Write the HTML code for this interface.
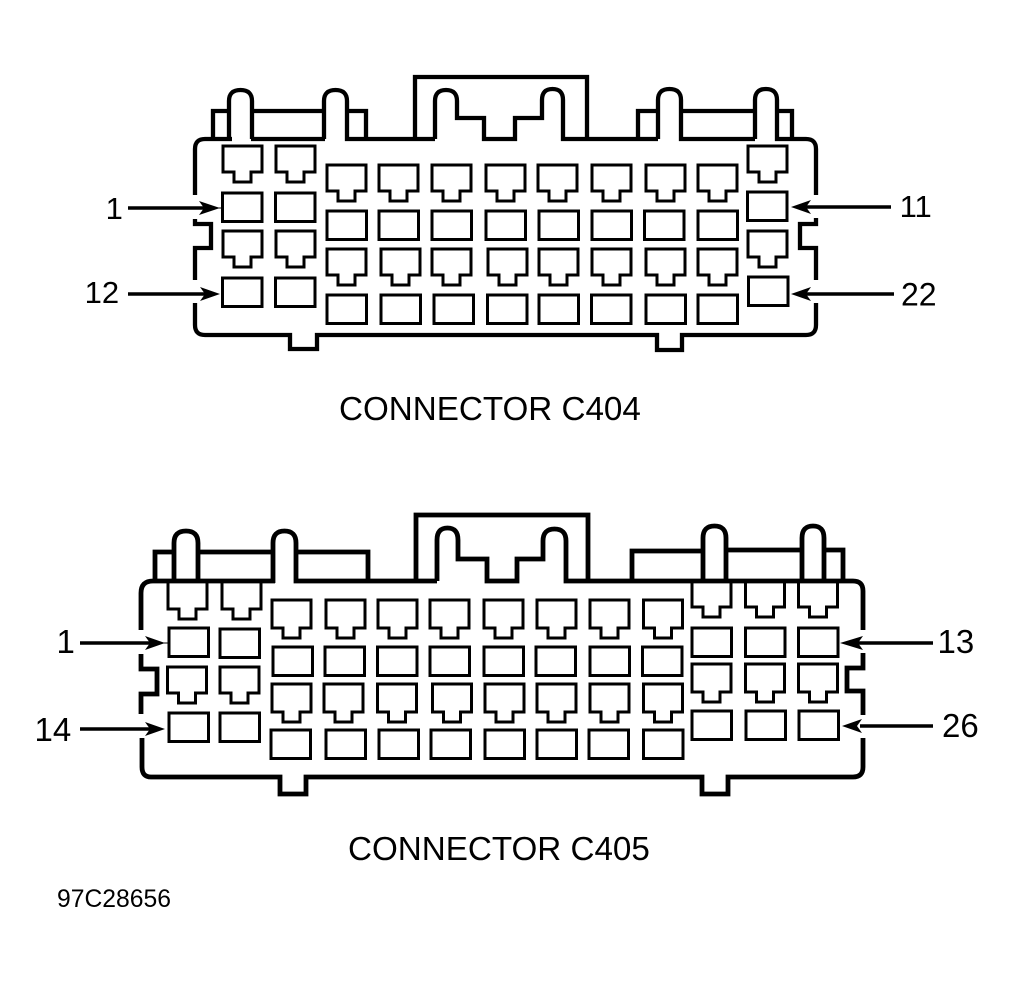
<!DOCTYPE html>
<html>
<head>
<meta charset="utf-8">
<style>
html,body{margin:0;padding:0;background:#fff;width:1014px;height:983px;overflow:hidden}
svg{display:block}
text{font-family:"Liberation Sans",sans-serif;fill:#000}
.o{fill:none;stroke:#000;stroke-width:4.300;stroke-linejoin:miter}
.o2{fill:none;stroke:#000;stroke-width:4.800;stroke-linejoin:miter}
.c{fill:none;stroke:#000;stroke-width:3}
.l{stroke:#000;stroke-width:3.500;fill:none}
.t{stroke:#000;stroke-width:1;fill:none}
</style>
</head>
<body>
<svg width="1014" height="983" viewBox="0 0 1014 983" xmlns="http://www.w3.org/2000/svg">
<defs>
<path id="p" d="M0 0h39v26h-11v10h-17v-10h-11z"/>
<path id="q" d="M0 0h39v28h-11v10h-17v-10h-11z"/>
<rect id="r" width="39.500" height="28.500"/>
</defs>

<!-- C404 outline -->
<g class="o">
<path d="M195 195V149Q195 139 205 139H232M251 139H325"/>
<path d="M213 139V111H229"/>
<path d="M229 139V101Q229 90 240.500 90Q252 90 252 101V139"/>
<path d="M252 111H324"/>
<path d="M324 139V101Q324 90 335.500 90Q347 90 347 101V139H435"/>
<path d="M347 111H366V139"/>
<path d="M415 139V77H587V139"/>
<path d="M435 139V101Q435 90 446 90Q457 90 457 101V118H484V139H515V118H542V100Q542 89 552.500 89Q563 89 563 100V139H658"/>
<path d="M638 139V111H658"/>
<path d="M658 139V100Q658 89 669.500 89Q681 89 681 100V139H755"/>
<path d="M681 111H755"/>
<path d="M755 139V100Q755 89 766 89Q777 89 777 100V139H806Q816 139 816 149V195"/>
<path d="M777 111H792V139"/>
<path d="M816 218V224H800V248H816V280"/>
<path d="M816 303V325Q816 335 806 335H682V350H657V335H317V349H290V335H205Q195 335 195 325V303"/>
<path d="M195 280V248H211V224H195V219"/>
</g>

<!-- C404 cells -->
<g class="c">
<use href="#p" x="223" y="146"/><use href="#p" x="276" y="146"/><use href="#p" x="748" y="146"/>
<use href="#p" x="327" y="165"/><use href="#p" x="379" y="165"/><use href="#p" x="432" y="165"/><use href="#p" x="486" y="165"/><use href="#p" x="538" y="165"/><use href="#p" x="592" y="165"/><use href="#p" x="646" y="165"/><use href="#p" x="698" y="165"/>
<use href="#p" x="223" y="231"/><use href="#p" x="276" y="231"/><use href="#p" x="748" y="231"/>
<use href="#p" x="327" y="249"/><use href="#p" x="381" y="249"/><use href="#p" x="432" y="249"/><use href="#p" x="488" y="249"/><use href="#p" x="539" y="249"/><use href="#p" x="592" y="249"/><use href="#p" x="646" y="249"/><use href="#p" x="698" y="249"/>
<use href="#r" x="222.500" y="193"/><use href="#r" x="275.500" y="193"/><use href="#r" x="747.500" y="192"/>
<use href="#r" x="222.500" y="278"/><use href="#r" x="275.500" y="278"/><use href="#r" x="748.500" y="277"/>
<use href="#r" x="327" y="211"/><use href="#r" x="379" y="211"/><use href="#r" x="432" y="211"/><use href="#r" x="486" y="211"/><use href="#r" x="539" y="211"/><use href="#r" x="592" y="211"/><use href="#r" x="644.500" y="211"/><use href="#r" x="698" y="211"/>
<use href="#r" x="327" y="295"/><use href="#r" x="381" y="295"/><use href="#r" x="434" y="295"/><use href="#r" x="487.500" y="295"/><use href="#r" x="539" y="295"/><use href="#r" x="591.500" y="295"/><use href="#r" x="646" y="295"/><use href="#r" x="698" y="295"/>
</g>

<!-- C405 outline -->
<g class="o2">
<path d="M141 630V593Q141 581 153 581H275"/>
<path d="M155 581V552H174"/>
<path d="M174 581V543Q174 531 186 531Q198 531 198 543V581"/>
<path d="M198 552H273"/>
<path d="M273 583V543Q273 531 284.500 531Q296 531 296 543V581H437"/>
<path d="M296 552H368V581"/>
<path d="M416 581V515H588V581"/>
<path d="M437 581V540Q437 528 447.500 528Q458 528 458 540V559H487V581H517V559H543V541Q543 529 554.500 529Q566 529 566 541V581H853Q863 581 863 591V630"/>
<path d="M632 581V551H703"/>
<path d="M703 581V538Q703 526 714.500 526Q726 526 726 538V581"/>
<path d="M726 550H802"/>
<path d="M802 581V538Q802 526 813 526Q824 526 824 538V581"/>
<path d="M824 550H843V581"/>
<path d="M863 653V668H847V691H863V715"/>
<path d="M863 738V767Q863 777 853 777H728V794H702V777H306V794H280V777H151Q142 777 142 767V738"/>
<path d="M141 714V694H157V669H141V654"/>
</g>

<!-- C405 cells -->
<g class="c">
<use href="#q" x="168" y="581"/><use href="#q" x="222" y="581"/>
<use href="#p" x="692" y="581"/><use href="#p" x="745.500" y="581"/><use href="#p" x="798.500" y="581"/>
<use href="#p" x="167.500" y="667"/><use href="#p" x="220" y="667"/>
<use href="#q" x="272" y="600"/><use href="#q" x="326" y="600"/><use href="#q" x="378" y="600"/><use href="#q" x="430" y="600"/><use href="#q" x="484" y="600"/><use href="#q" x="537" y="600"/><use href="#q" x="590" y="600"/><use href="#q" x="643.500" y="600"/>
<use href="#q" x="272" y="684"/><use href="#q" x="324" y="684"/><use href="#q" x="377.500" y="684"/><use href="#q" x="432.500" y="684"/><use href="#q" x="485" y="684"/><use href="#q" x="537" y="684"/><use href="#q" x="590" y="684"/><use href="#q" x="643.500" y="684"/>
<use href="#q" x="692" y="664"/><use href="#q" x="745.500" y="664"/><use href="#q" x="798.500" y="664"/>
<use href="#r" x="169" y="628"/><use href="#r" x="220" y="629"/>
<use href="#r" x="169" y="713"/><use href="#r" x="220" y="713"/>
<use href="#r" x="273" y="647"/><use href="#r" x="325" y="647"/><use href="#r" x="377.500" y="647"/><use href="#r" x="430" y="647"/><use href="#r" x="484" y="647"/><use href="#r" x="536" y="647"/><use href="#r" x="590" y="647"/><use href="#r" x="642.500" y="647"/>
<use href="#r" x="271" y="730"/><use href="#r" x="326" y="730"/><use href="#r" x="379" y="730"/><use href="#r" x="431" y="730"/><use href="#r" x="485" y="730"/><use href="#r" x="537" y="730"/><use href="#r" x="589" y="730"/><use href="#r" x="643.500" y="730"/>
<use href="#r" x="692" y="628"/><use href="#r" x="745.500" y="628"/><use href="#r" x="798.500" y="628"/>
<use href="#r" x="692" y="711"/><use href="#r" x="746" y="711"/><use href="#r" x="799" y="711"/>
</g>

<!-- Arrows -->
<g class="l">
<path d="M128 208H205"/><path d="M128 294H205"/>
<path d="M805 207H891"/><path d="M805 294H894"/>
<path d="M80 643H150"/><path d="M80 729H150"/>
<path d="M858 643H933"/><path d="M860 726H933"/>
</g>
<path class="t" d="M215 208H222M160 643H168"/>
<g fill="#000" stroke="none">
<polygon points="220,208 199,201 204,208 199,215"/>
<polygon points="220,294 200,287 205,294 200,301"/>
<polygon points="791,207 811,200 806,207 811,214"/>
<polygon points="791,294 811,287 806,294 811,301"/>
<polygon points="165,643 145,636 150,643 145,650"/>
<polygon points="165,729 145,722 150,729 145,736"/>
<polygon points="840,643 863,636 858,643 863,650"/>
<polygon points="842,726 862,719 857,726 862,733"/>
</g>

<!-- Labels -->
<text x="105.600" y="219" font-size="31">1</text>
<text x="84.600" y="303" font-size="31">12</text>
<text x="899.600" y="217" font-size="31">11</text>
<text x="901" y="305.500" font-size="32">22</text>
<text x="56.500" y="653" font-size="33">1</text>
<text x="34.500" y="741" font-size="33">14</text>
<text x="937.500" y="653" font-size="33">13</text>
<text x="942" y="737" font-size="33">26</text>
<text x="339" y="420" font-size="33.200">CONNECTOR C404</text>
<text x="348" y="860" font-size="33.200">CONNECTOR C405</text>
<text x="57" y="907" font-size="24.700">97C28656</text>
</svg>
</body>
</html>
